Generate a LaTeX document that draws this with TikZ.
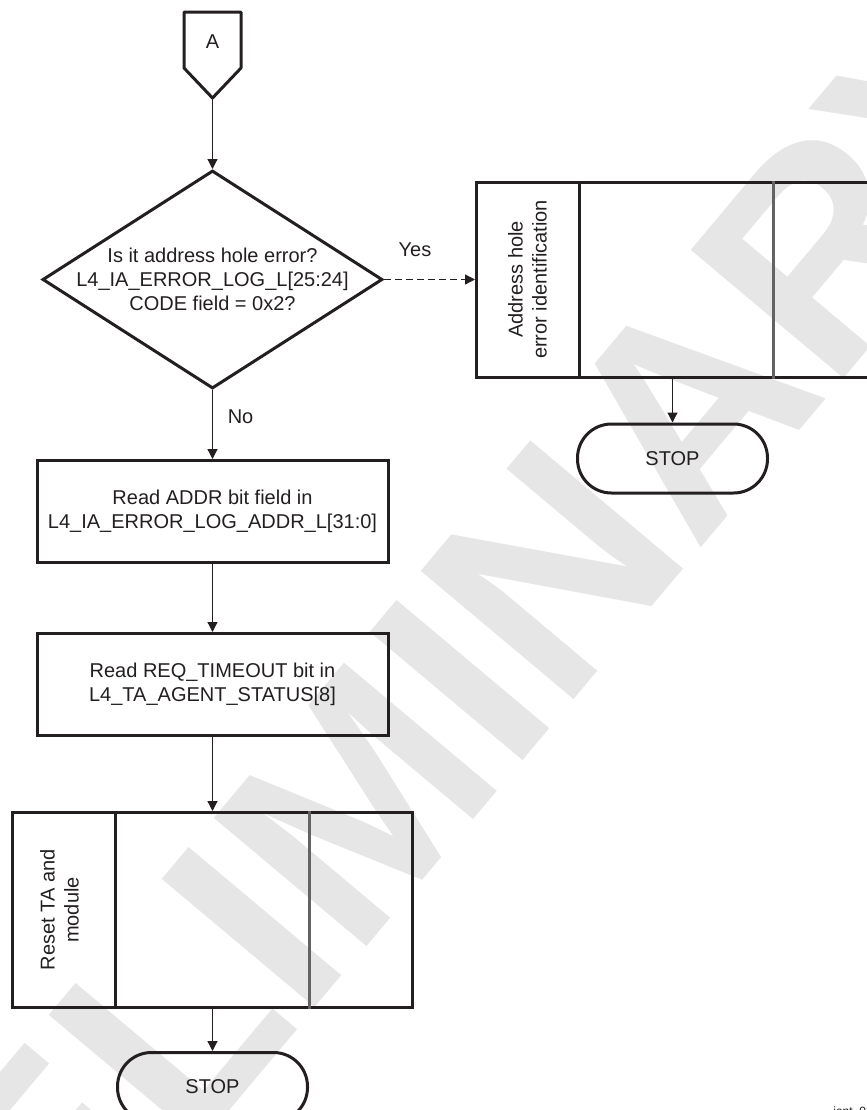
\documentclass[tikz,border=0pt]{standalone}
\usepackage{fontspec}
\setmainfont{Liberation Sans}
\usetikzlibrary{arrows.meta,positioning,calc,shapes.geometric}

\definecolor{ink}{HTML}{231F20}
\definecolor{wmgray}{HTML}{E6E6E6}

\begin{document}
\begin{tikzpicture}[x=0.5pt, y=-0.5pt, >={Triangle[length=5pt,width=5pt]},
  every node/.style={font=\fontsize{10}{12}\selectfont, text=ink, align=center},
  box/.style={draw=ink, line width=1.5pt, minimum width=175.5pt, minimum height=51pt, inner sep=0pt},
  decision/.style={draw=ink, line width=1.5pt, diamond, minimum width=170pt, minimum height=109pt, inner sep=0pt},
  predef/.style={draw=ink, line width=1.5pt, minimum width=200pt, minimum height=97.5pt, inner sep=0pt},
  stopbox/.style={draw=ink, line width=1.5pt, rounded corners=17pt, minimum width=95pt, minimum height=34.5pt},
  flow/.style={->, draw=ink, line width=0.6pt}]
  \useasboundingbox (0,0) rectangle (867,1110);
  \clip (0,0) rectangle (867,1110);

  % watermark
  \node[rotate=50, text=wmgray, font=\fontsize{145}{145}\selectfont\bfseries] (wmark) at (368,790) {PRELIMINARY};

  % off-page connector
  \node (offpg) at (212.5,42) {A};
  \draw[draw=ink, line width=1.5pt, line join=round] (184,12) -- (241,12) -- (241,68) -- (212.5,98) -- (184,68) -- cycle;
  \coordinate (offtip) at (212.5,98);

  \node[decision, below=35.5pt of offtip] (hole) {};
  \node (holetxt) at (hole.center) {Is it address hole error?\\ L4\_IA\_ERROR\_LOG\_L[25:24]\\ CODE field = 0x2?};
  \node[box, below=34.5pt of hole] (rdaddr) {Read ADDR bit field in\\ L4\_IA\_ERROR\_LOG\_ADDR\_L[31:0]};
  \node[box, below=34pt of rdaddr] (rdreq) {Read REQ\_TIMEOUT bit in\\ L4\_TA\_AGENT\_STATUS[8]};
  \node[predef, below=37pt of rdreq] (reset) {};
  \node[stopbox, below=21pt of reset] (stopl) {STOP};

  \node[predef, right=45.5pt of hole] (addrid) {};
  \node[stopbox, below=22pt of addrid, xshift=-2pt] (stopr) {STOP};

  % cells of the predefined boxes
  \foreach \b in {addrid, reset} {
    \draw[draw=ink, line width=1.5pt] ($(\b.north west)!0.26!(\b.north east)$) -- ($(\b.south west)!0.26!(\b.south east)$);
    \draw[draw=ink!70, line width=1.5pt] ($(\b.north west)!0.74!(\b.north east)$) -- ($(\b.south west)!0.74!(\b.south east)$);
  }
  \node[rotate=90] (addridtxt) at ($(addrid.west)!0.13!(addrid.east)$) {Address hole\\ error identification};
  \node[rotate=90] (resettxt) at ($(reset.west)!0.12!(reset.east)$) {Reset TA and\\ module};

  \draw[flow] (offtip) -- (hole);
  \draw[flow] (hole) -- node[pos=0.38, right=4pt] {No} (rdaddr);
  \draw[flow, dash pattern=on 3.5pt off 2pt] (hole) -- node[pos=0.34, above=8pt] {Yes} (addrid);
  \draw[flow] (rdaddr) -- (rdreq);
  \draw[flow] (rdreq) -- (reset);
  \draw[flow] (reset) -- (stopl);
  \draw[flow] (addrid.south -| stopr.north) -- (stopr);

  \node[anchor=north west, inner sep=0pt, font=\fontsize{6}{7}\selectfont] (figid) at (833,1106) {iont\_02};
\end{tikzpicture}
\end{document}
